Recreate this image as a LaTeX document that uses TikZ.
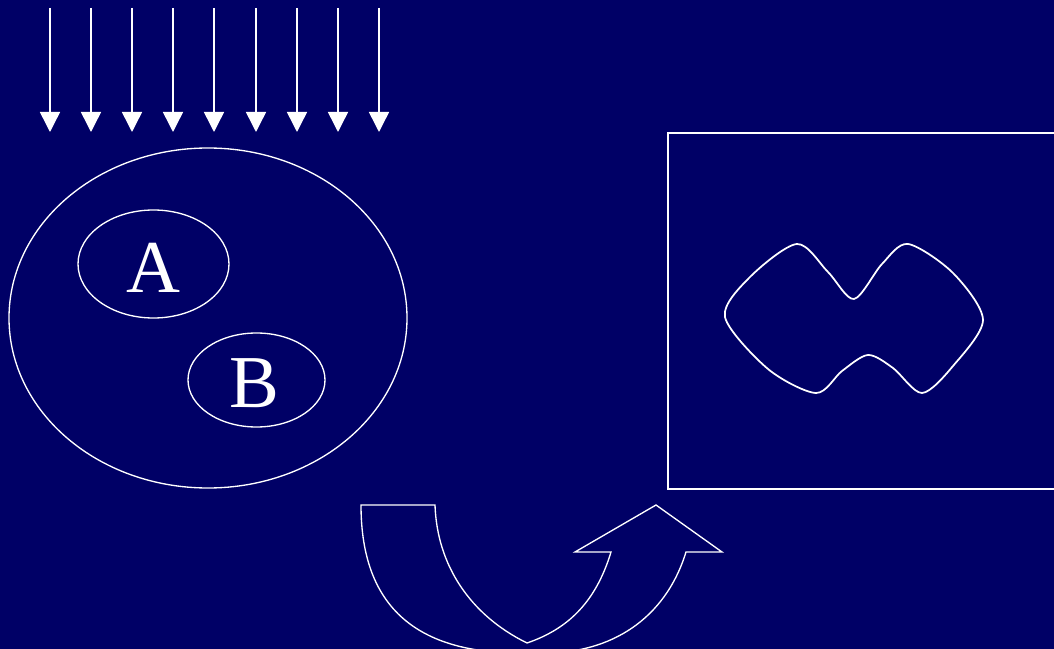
\documentclass[tikz,border=0pt]{standalone}
\usepackage{fontspec}
\setmainfont{Liberation Serif}
\usetikzlibrary{arrows.meta}
\definecolor{bg}{RGB}{0,0,102}
\tikzset{
  outl/.style={draw=white, line width=1pt},
  ray/.style={draw=white, line width=1.1pt, -{Triangle[width=15pt,length=15pt]}},
  letter/.style={text=white, font=\fontsize{56}{56}\selectfont, inner sep=0pt, anchor=base}
}
\begin{document}
\begin{tikzpicture}[x=0.75pt,y=-0.75pt]
\fill[bg] (0,0) rectangle (1054,649);
\useasboundingbox (0,0) rectangle (1054,649);
% rays
\foreach \i/\xx in {1/50,2/91,3/132,4/173,5/214,6/256,7/297,8/338,9/379}{
  \coordinate (s\i) at (\xx,8);
  \coordinate (e\i) at (\xx,132);
  \draw[ray] (s\i) -- (e\i);
}
% ellipses
\draw[outl] (208,318) ellipse [x radius=199, y radius=170];
\draw[outl] (153.5,264) ellipse [x radius=75.5, y radius=54];
\draw[outl] (256.5,380) ellipse [x radius=68.5, y radius=47];
\node[letter] (A) at (153,292) {A};
\node[letter] (B) at (254,407) {B};
% frame
\draw[outl] (668,133) rectangle (1070,489);
% blob
\draw[outl, line width=1.3pt] plot[smooth cycle, tension=0.5] coordinates {
  (725,317) (750,277) (797,244) (828,272) (854,299) (882,264) (908,244)
  (953,273) (983,320) (953,366) (922,393) (893,368) (868,355) (842,371)
  (816,393) (768,369)};
% curved up arrow
\draw[outl, line join=miter]
  (361,505) -- (435,505)
  .. controls (437,565) and (470,615) .. (527,643)
  .. controls (565,630) and (595,605) .. (611,552)
  -- (575,552) -- (656,505) -- (722,552) -- (686,552)
  .. controls (665,620) and (610,653) .. (545,653)
  -- (520,653)
  .. controls (420,653) and (361,610) .. (361,505) -- cycle;
\end{tikzpicture}
\end{document}
